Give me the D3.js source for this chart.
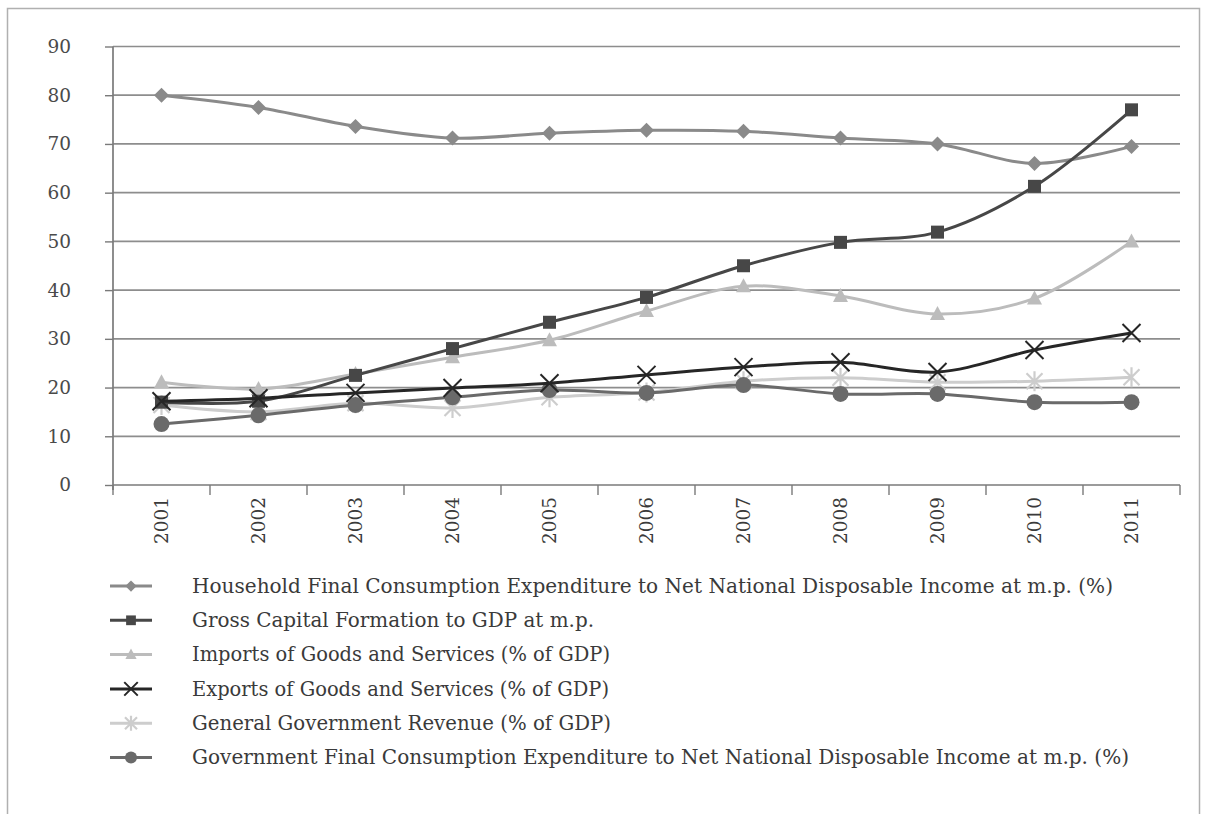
<!DOCTYPE html>
<html><head><meta charset="utf-8">
<script src="https://cdn.jsdelivr.net/npm/d3@7"></script>
<style>body{margin:0;background:#fff}svg{display:block}</style>
</head><body>
<script>
const years = ["2001","2002","2003","2004","2005","2006","2007","2008","2009","2010","2011"];
const yTicks = [0,10,20,30,40,50,60,70,80,90];
const household = [80,77.5,73.6,71.2,72.2,72.8,72.6,71.2,70,66,69.5];
const grossCapital = [17,17.2,22.5,28,33.4,38.5,45,49.8,51.9,61.3,77];
const imports = [21.1,19.7,22.8,26.2,29.7,35.7,40.8,38.8,35.1,38.3,50];
const exportsGS = [17.2,17.8,18.9,19.9,20.9,22.6,24.2,25.2,23.2,27.7,31.2];
const revenue = [16.4,15,16.8,15.8,18,19,21.3,22,21.1,21.3,22.1];
const govCons = [12.5,14.3,16.4,18,19.5,18.9,20.5,18.7,18.7,17,17];
const seriesNames = [
  "Household Final Consumption Expenditure to Net National Disposable Income at m.p. (%)",
  "Gross Capital Formation to GDP at m.p.",
  "Imports of Goods and Services (% of GDP)",
  "Exports of Goods and Services (% of GDP)",
  "General Government Revenue (% of GDP)",
  "Government Final Consumption Expenditure to Net National Disposable Income at m.p. (%)"
];

(function(){
const series = [
  {name:seriesNames[0], values:household, color:"#8a8a8a", marker:"diamond"},
  {name:seriesNames[1], values:grossCapital, color:"#474747", marker:"square"},
  {name:seriesNames[2], values:imports, color:"#bcbcbc", marker:"triangle"},
  {name:seriesNames[3], values:exportsGS, color:"#262626", marker:"x"},
  {name:seriesNames[4], values:revenue, color:"#cdcdcd", marker:"star"},
  {name:seriesNames[5], values:govCons, color:"#6a6a6a", marker:"circle"}
];

const W=1209,H=814;
const svg=d3.select("body").append("svg").attr("width",W).attr("height",H);
svg.append("rect").attr("x",7.5).attr("y",8.5).attr("width",1192).attr("height",830)
  .attr("fill","none").attr("stroke","#b0b0b0").attr("stroke-width",1.5);

const pL=113,pR=1180,pT=46.5,pB=485;
const x=d3.scaleBand().domain(years).range([pL,pR]);
const y=d3.scaleLinear().domain([0,90]).range([pB,pT]);
const font="'DejaVu Serif', serif";

svg.append("g").selectAll("line").data(yTicks.filter(d=>d>0)).join("line")
  .attr("x1",pL).attr("x2",pR).attr("y1",d=>y(d)).attr("y2",d=>y(d))
  .attr("stroke","#8d8d8d").attr("stroke-width",1.7);

const yAxis=svg.append("g").attr("transform",`translate(${pL},0)`)
  .call(d3.axisLeft(y).tickValues(yTicks).tickSize(8).tickPadding(34));
yAxis.select(".domain").attr("stroke","#7a7a7a").attr("stroke-width",1.7).attr("d",`M0,${pT}V${pB+5}`);
yAxis.selectAll(".tick line").attr("stroke","#7a7a7a").attr("stroke-width",1.4);
yAxis.selectAll(".tick text").attr("font-family",font).attr("font-size",18.5).attr("fill","#4a4a4a");

const xAxis=svg.append("g").attr("transform",`translate(0,${pB})`)
  .call(d3.axisBottom(x).tickSize(0));
xAxis.select(".domain").attr("stroke","#7a7a7a").attr("stroke-width",1.7).attr("d",`M${pL},0H${pR}`);
xAxis.selectAll(".tick text").attr("font-family",font).attr("font-size",18.5).attr("fill","#3a3a3a")
  .attr("transform","rotate(-90)").attr("text-anchor","end").attr("dy","0.35em").attr("x",-12).attr("y",0);
const edges=years.map(d=>x(d)).concat([pR]);
svg.append("g").selectAll("line").data(edges).join("line")
  .attr("x1",d=>d).attr("x2",d=>d).attr("y1",pB).attr("y2",pB+10)
  .attr("stroke","#7a7a7a").attr("stroke-width",1.4);

function drawMarker(g,type,color,cx,cy,s){
  s=s||1;
  if(type==="diamond"){
    g.append("path").attr("d",`M${cx},${cy-7.5*s}L${cx+7.5*s},${cy}L${cx},${cy+7.5*s}L${cx-7.5*s},${cy}Z`).attr("fill",color);
  } else if(type==="square"){
    g.append("rect").attr("x",cx-6.5*s).attr("y",cy-6.5*s).attr("width",13*s).attr("height",13*s).attr("fill",color);
  } else if(type==="triangle"){
    g.append("path").attr("d",`M${cx},${cy-8*s}L${cx+7.5*s},${cy+6*s}L${cx-7.5*s},${cy+6*s}Z`).attr("fill",color);
  } else if(type==="x"){
    g.append("path").attr("d",`M${cx-9*s},${cy-9*s}L${cx+9*s},${cy+9*s}M${cx+9*s},${cy-9*s}L${cx-9*s},${cy+9*s}`)
      .attr("stroke",color).attr("stroke-width",2);
  } else if(type==="star"){
    g.append("path").attr("d",`M${cx-8*s},${cy-8*s}L${cx+8*s},${cy+8*s}M${cx+8*s},${cy-8*s}L${cx-8*s},${cy+8*s}M${cx},${cy-10*s}L${cx},${cy+10*s}`)
      .attr("stroke",color).attr("stroke-width",2.2);
  } else if(type==="circle"){
    g.append("circle").attr("cx",cx).attr("cy",cy).attr("r",8*s).attr("fill",color);
  }
}

const line=d3.line().x((d,i)=>x(years[i])+x.bandwidth()/2).y(d=>y(d)).curve(d3.curveCatmullRom.alpha(0.5));
const order=[4,2,0,5,1,3];
order.forEach(k=>{
  const s=series[k];
  const g=svg.append("g");
  g.append("path").datum(s.values).attr("d",line).attr("fill","none")
    .attr("stroke",s.color).attr("stroke-width",3);
  s.values.forEach((v,i)=>drawMarker(g,s.marker,s.color,x(years[i])+x.bandwidth()/2,y(v)));
});

const legY0=586,legStep=34.3;
const legendWidths=[921,402,418,417,419,937];
series.forEach((s,i)=>{
  const ly=legY0+i*legStep;
  const g=svg.append("g");
  g.append("line").attr("x1",110).attr("x2",152).attr("y1",ly).attr("y2",ly).attr("stroke",s.color).attr("stroke-width",3);
  drawMarker(g,s.marker,s.color,131,ly,0.75);
  g.append("text").attr("x",192).attr("y",ly).attr("dy","0.35em")
    .attr("font-family",font).attr("font-size",19.5).attr("fill","#3a3a3a").text(s.name)
    .attr("textLength",legendWidths[i]).attr("lengthAdjust","spacingAndGlyphs");
});
})();
</script>
</body></html>
